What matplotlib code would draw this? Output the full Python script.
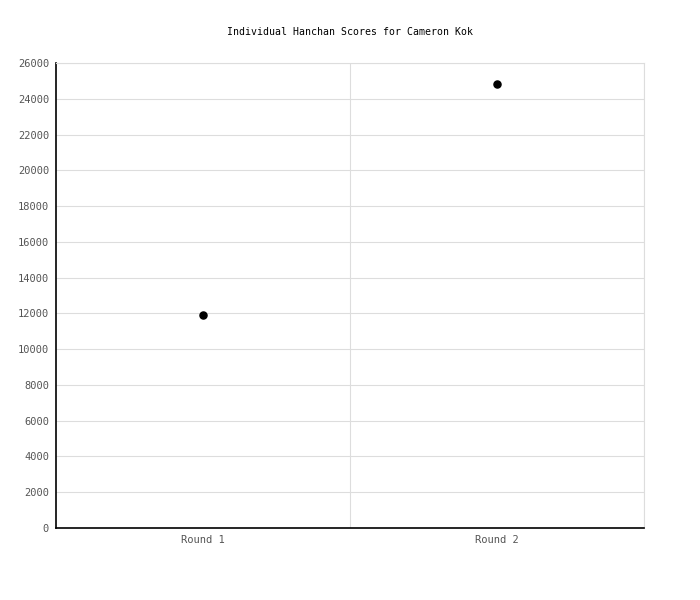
import matplotlib
matplotlib.use("Agg")
import matplotlib.pyplot as plt
from matplotlib.ticker import FixedLocator

rounds = ["Round 1", "Round 2"]
scores = [11900, 24800]
y_ticks = list(range(0, 26001, 2000))

plt.rcParams["font.family"] = "DejaVu Sans Mono"

fig = plt.figure(figsize=(7, 6), dpi=100)
ax = fig.add_axes([56 / 700, 72 / 600, 588 / 700, 465 / 600])

x = [i + 0.5 for i in range(len(rounds))]
ax.scatter(x, scores, s=26, color="black", zorder=3)

ax.set_xlim(0, len(rounds))
ax.set_ylim(0, 26000)
ax.set_yticks(y_ticks)
ax.set_yticklabels([str(v) for v in y_ticks], fontsize=7.5, color="#555555")
ax.set_xticks(x)
ax.set_xticklabels(rounds, fontsize=7.5, color="#555555")
ax.xaxis.set_minor_locator(FixedLocator(range(1, len(rounds) + 1)))
ax.grid(axis="y", color="#dddddd", linewidth=0.8)
ax.grid(axis="x", which="minor", color="#dddddd", linewidth=0.8)
ax.set_axisbelow(True)
ax.tick_params(axis="both", which="both", length=0)
ax.tick_params(axis="x", pad=5)
ax.tick_params(axis="y", pad=5)

for side in ["top", "right"]:
    ax.spines[side].set_color("#dddddd")
    ax.spines[side].set_linewidth(0.8)
for side in ["left", "bottom"]:
    ax.spines[side].set_color("black")
    ax.spines[side].set_linewidth(1.2)

fig.text(350 / 700, 1 - 32 / 600, "Individual Hanchan Scores for Cameron Kok",
         ha="center", va="center", fontsize=7.1, color="black")

fig.savefig("out.png", dpi=100, facecolor="white")
